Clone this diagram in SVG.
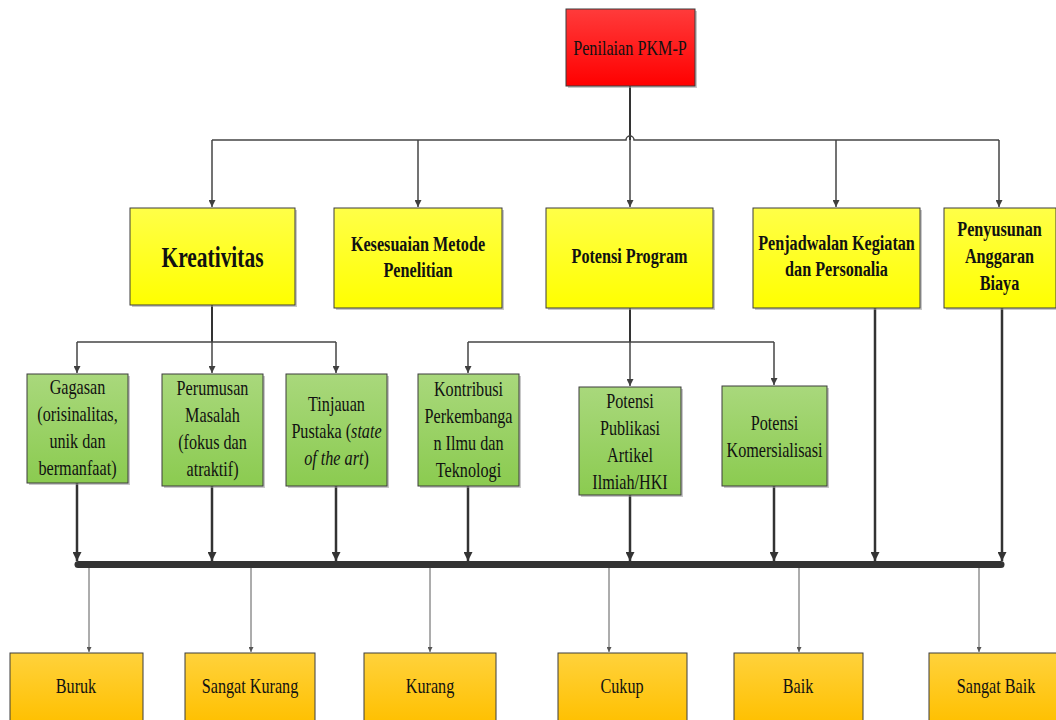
<svg xmlns="http://www.w3.org/2000/svg" width="1056" height="720" viewBox="0 0 1056 720">
<style>
  text { font-family: "Liberation Serif", "Times New Roman", "DejaVu Serif", serif; }
  .t { fill: #111; text-anchor: middle; }
  .n { font-size: 21px; }
  .b { font-size: 21px; font-weight: bold; }
  .big { font-size: 29px; font-weight: bold; }
  .box { stroke: #3c3c3c; stroke-width: 1; }
  .sh { fill: #9a9a9a; opacity: 0.55; }
  .c1 { stroke: #454545; stroke-width: 1.5; fill: none; }
  .c2 { stroke: #333; stroke-width: 2.5; fill: none; }
  .c3 { stroke: #5a5a5a; stroke-width: 1; fill: none; }
</style>
<defs>
  <linearGradient id="gRed" x1="0" y1="0" x2="0" y2="1"><stop offset="0" stop-color="#ff3b3b"/><stop offset="1" stop-color="#ff0000"/></linearGradient>
  <linearGradient id="gYel" x1="0" y1="0" x2="0" y2="1"><stop offset="0" stop-color="#ffff48"/><stop offset="1" stop-color="#ffff00"/></linearGradient>
  <linearGradient id="gGrn" x1="0" y1="0" x2="0" y2="1"><stop offset="0" stop-color="#a9d87c"/><stop offset="1" stop-color="#8bcb50"/></linearGradient>
  <linearGradient id="gOr" x1="0" y1="0" x2="0" y2="1"><stop offset="0" stop-color="#ffd23c"/><stop offset="1" stop-color="#ffc000"/></linearGradient>
  <marker id="a1" viewBox="0 0 10 10" refX="10" refY="5" markerUnits="userSpaceOnUse" markerWidth="8" markerHeight="7" orient="auto"><path d="M0,0 L10,5 L0,10 z" fill="#404040"/></marker>
  <marker id="a2" viewBox="0 0 10 10" refX="10" refY="5" markerUnits="userSpaceOnUse" markerWidth="10" markerHeight="9" orient="auto"><path d="M0,0 L10,5 L0,10 z" fill="#333"/></marker>
  <marker id="a3" viewBox="0 0 10 10" refX="10" refY="5" markerUnits="userSpaceOnUse" markerWidth="6" markerHeight="5" orient="auto"><path d="M0,0 L10,5 L0,10 z" fill="#555"/></marker>
</defs>
<rect width="1056" height="720" fill="#fff"/>

<g id="connectors">
  <line x1="630" y1="86" x2="630" y2="140" stroke="#333" stroke-width="2"/>
  <path class="c1" d="M212,140 H626 A4,4 0 0 1 634,140 H999"/>
  <line class="c1" x1="212" y1="140" x2="212" y2="207" marker-end="url(#a1)"/>
  <line class="c1" x1="418" y1="140" x2="418" y2="207" marker-end="url(#a1)"/>
  <line class="c1" x1="630" y1="140" x2="630" y2="207" marker-end="url(#a1)"/>
  <line class="c1" x1="836" y1="140" x2="836" y2="207" marker-end="url(#a1)"/>
  <line class="c1" x1="999" y1="140" x2="999" y2="207" marker-end="url(#a1)"/>

  <line x1="212" y1="305" x2="212" y2="342" stroke="#333" stroke-width="2"/>
  <path class="c1" d="M77,342 H336"/>
  <line class="c1" x1="77" y1="342" x2="77" y2="373" marker-end="url(#a1)"/>
  <line class="c1" x1="212" y1="342" x2="212" y2="373" marker-end="url(#a1)"/>
  <line class="c1" x1="336" y1="342" x2="336" y2="373" marker-end="url(#a1)"/>

  <line x1="630" y1="308" x2="630" y2="342" stroke="#333" stroke-width="2"/>
  <path class="c1" d="M468,342 H774"/>
  <line class="c1" x1="468" y1="342" x2="468" y2="373" marker-end="url(#a1)"/>
  <line class="c1" x1="630" y1="342" x2="630" y2="386" marker-end="url(#a1)"/>
  <line class="c1" x1="774" y1="342" x2="774" y2="385" marker-end="url(#a1)"/>

  <line class="c2" x1="77" y1="483" x2="77" y2="561" marker-end="url(#a2)"/>
  <line class="c2" x1="212" y1="486" x2="212" y2="561" marker-end="url(#a2)"/>
  <line class="c2" x1="336" y1="486" x2="336" y2="561" marker-end="url(#a2)"/>
  <line class="c2" x1="468" y1="486" x2="468" y2="561" marker-end="url(#a2)"/>
  <line class="c2" x1="630" y1="495" x2="630" y2="561" marker-end="url(#a2)"/>
  <line class="c2" x1="774" y1="486" x2="774" y2="561" marker-end="url(#a2)"/>
  <line class="c2" x1="875" y1="308" x2="875" y2="561" marker-end="url(#a2)"/>
  <line class="c2" x1="1002" y1="308" x2="1002" y2="561" marker-end="url(#a2)"/>

  <line x1="78" y1="564.5" x2="1001" y2="564.5" stroke="#333" stroke-width="7" stroke-linecap="round"/>

  <line class="c3" x1="89" y1="568" x2="89" y2="652" marker-end="url(#a3)"/>
  <line class="c3" x1="251" y1="568" x2="251" y2="652" marker-end="url(#a3)"/>
  <line class="c3" x1="430" y1="568" x2="430" y2="652" marker-end="url(#a3)"/>
  <line class="c3" x1="609" y1="568" x2="609" y2="652" marker-end="url(#a3)"/>
  <line class="c3" x1="799" y1="568" x2="799" y2="652" marker-end="url(#a3)"/>
  <line class="c3" x1="979" y1="568" x2="979" y2="652" marker-end="url(#a3)"/>
</g>

<g id="root">
  <rect class="sh" x="568" y="11" width="129" height="77"/>
  <rect class="box" x="566" y="9" width="129" height="77" fill="url(#gRed)"/>
  <text class="t n" transform="translate(630,55) scale(0.77,1)">Penilaian PKM-P</text>
</g>

<g id="kreativitas">
  <rect class="sh" x="132" y="210" width="165" height="97"/>
  <rect class="box" x="130" y="208" width="165" height="97" fill="url(#gYel)"/>
  <text class="t big" transform="translate(212.5,267) scale(0.74,1)">Kreativitas</text>
</g>
<g id="kesesuaian">
  <rect class="sh" x="336" y="210" width="168" height="100"/>
  <rect class="box" x="334" y="208" width="168" height="100" fill="url(#gYel)"/>
  <text class="t b" transform="translate(418,251) scale(0.77,1)"><tspan x="0">Kesesuaian Metode</tspan><tspan x="0" dy="26.5">Penelitian</tspan></text>
</g>
<g id="potensi-program">
  <rect class="sh" x="548" y="210" width="167" height="100"/>
  <rect class="box" x="546" y="208" width="167" height="100" fill="url(#gYel)"/>
  <text class="t b" transform="translate(629.5,263) scale(0.77,1)">Potensi Program</text>
</g>
<g id="penjadwalan">
  <rect class="sh" x="755" y="210" width="167" height="100"/>
  <rect class="box" x="753" y="208" width="167" height="100" fill="url(#gYel)"/>
  <text class="t b" transform="translate(836.5,250) scale(0.77,1)"><tspan x="0">Penjadwalan Kegiatan</tspan><tspan x="0" dy="26.5">dan Personalia</tspan></text>
</g>
<g id="penyusunan">
  <rect class="sh" x="946" y="210" width="112" height="100"/>
  <rect class="box" x="944" y="208" width="112" height="100" fill="url(#gYel)"/>
  <text class="t b" transform="translate(999.5,236) scale(0.77,1)"><tspan x="0">Penyusunan</tspan><tspan x="0" dy="27">Anggaran</tspan><tspan x="0" dy="27">Biaya</tspan></text>
</g>

<g id="gagasan">
  <rect class="sh" x="29" y="376" width="101" height="109"/>
  <rect class="box" x="27" y="374" width="101" height="109" fill="url(#gGrn)"/>
  <text class="t n" transform="translate(77.5,394) scale(0.77,1)"><tspan x="0">Gagasan</tspan><tspan x="0" dy="27">(orisinalitas,</tspan><tspan x="0" dy="27">unik dan</tspan><tspan x="0" dy="27">bermanfaat)</tspan></text>
</g>
<g id="perumusan">
  <rect class="sh" x="164" y="376" width="101" height="112"/>
  <rect class="box" x="162" y="374" width="101" height="112" fill="url(#gGrn)"/>
  <text class="t n" transform="translate(212.5,395) scale(0.77,1)"><tspan x="0">Perumusan</tspan><tspan x="0" dy="27">Masalah</tspan><tspan x="0" dy="27">(fokus dan</tspan><tspan x="0" dy="27">atraktif)</tspan></text>
</g>
<g id="tinjauan">
  <rect class="sh" x="288" y="376" width="101" height="112"/>
  <rect class="box" x="286" y="374" width="101" height="112" fill="url(#gGrn)"/>
  <text class="t n" transform="translate(336.5,411) scale(0.77,1)"><tspan x="0">Tinjauan</tspan><tspan x="0" dy="27">Pustaka (<tspan font-style="italic">state</tspan></tspan><tspan x="0" dy="27"><tspan font-style="italic">of the art</tspan>)</tspan></text>
</g>
<g id="kontribusi">
  <rect class="sh" x="420" y="376" width="101" height="112"/>
  <rect class="box" x="418" y="374" width="101" height="112" fill="url(#gGrn)"/>
  <text class="t n" transform="translate(468.5,396) scale(0.77,1)"><tspan x="0">Kontribusi</tspan><tspan x="0" dy="27">Perkembanga</tspan><tspan x="0" dy="27">n Ilmu dan</tspan><tspan x="0" dy="27">Teknologi</tspan></text>
</g>
<g id="publikasi">
  <rect class="sh" x="581" y="389" width="102" height="108"/>
  <rect class="box" x="579" y="387" width="102" height="108" fill="url(#gGrn)"/>
  <text class="t n" transform="translate(630,408) scale(0.77,1)"><tspan x="0">Potensi</tspan><tspan x="0" dy="27">Publikasi</tspan><tspan x="0" dy="27">Artikel</tspan><tspan x="0" dy="27">Ilmiah/HKI</tspan></text>
</g>
<g id="komersialisasi">
  <rect class="sh" x="724" y="388" width="105" height="100"/>
  <rect class="box" x="722" y="386" width="105" height="100" fill="url(#gGrn)"/>
  <text class="t n" transform="translate(774.5,430) scale(0.77,1)"><tspan x="0">Potensi</tspan><tspan x="0" dy="27">Komersialisasi</tspan></text>
</g>

<g id="buruk">
  <rect class="box" x="10" y="653" width="133" height="70" fill="url(#gOr)"/>
  <text class="t n" transform="translate(76,693) scale(0.77,1)">Buruk</text>
</g>
<g id="sangat-kurang">
  <rect class="box" x="185" y="653" width="130" height="70" fill="url(#gOr)"/>
  <text class="t n" transform="translate(250,693) scale(0.77,1)">Sangat Kurang</text>
</g>
<g id="kurang">
  <rect class="box" x="364" y="653" width="132" height="70" fill="url(#gOr)"/>
  <text class="t n" transform="translate(430,693) scale(0.77,1)">Kurang</text>
</g>
<g id="cukup">
  <rect class="box" x="558" y="653" width="129" height="70" fill="url(#gOr)"/>
  <text class="t n" transform="translate(622,693) scale(0.77,1)">Cukup</text>
</g>
<g id="baik">
  <rect class="box" x="734" y="653" width="129" height="70" fill="url(#gOr)"/>
  <text class="t n" transform="translate(798,693) scale(0.77,1)">Baik</text>
</g>
<g id="sangat-baik">
  <rect class="box" x="929" y="653" width="130" height="70" fill="url(#gOr)"/>
  <text class="t n" transform="translate(996,693) scale(0.77,1)">Sangat Baik</text>
</g>
</svg>
